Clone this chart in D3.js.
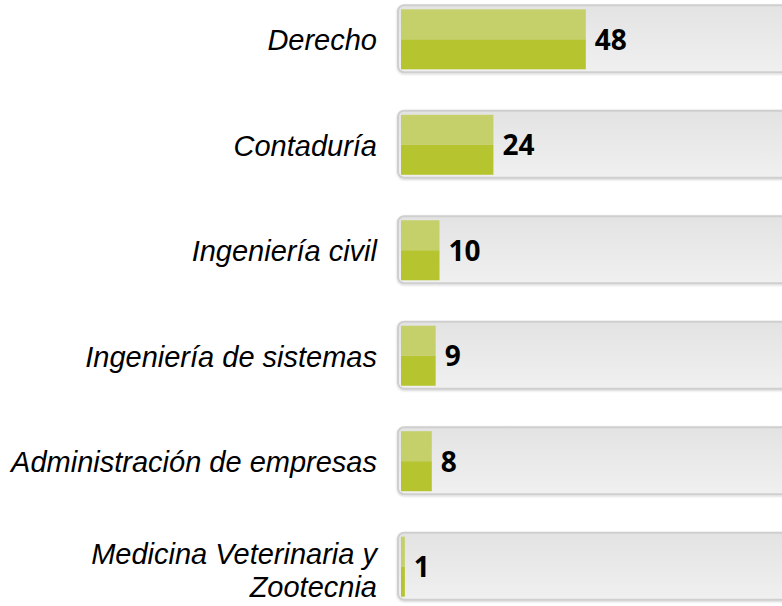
<!DOCTYPE html>
<html><head><meta charset="utf-8">
<script src="https://cdn.jsdelivr.net/npm/d3@7/dist/d3.min.js"></script>
<style>html,body{margin:0;padding:0;background:#fff;}svg{display:block;}</style>
</head><body>
<svg id="c" width="782" height="606"></svg>
<script>
const categories = ["Derecho","Contaduría","Ingeniería civil","Ingeniería de sistemas","Administración de empresas","Medicina Veterinaria y Zootecnia"];
const labelLines = [["Derecho"],["Contaduría"],["Ingeniería civil"],["Ingeniería de sistemas"],["Administración de empresas"],["Medicina Veterinaria y","Zootecnia"]];
const values = [48,24,10,9,8,1];
const xDomain = [0,100];

const svg = d3.select("#c");
const defs = svg.append("defs");
const tg = defs.append("linearGradient").attr("id","trk").attr("x1",0).attr("y1",0).attr("x2",0).attr("y2",1);
tg.append("stop").attr("offset","0%").attr("stop-color","#e4e3e4");
tg.append("stop").attr("offset","100%").attr("stop-color","#f0f0f0");
const f = defs.append("filter").attr("id","sh").attr("x","-5%").attr("y","-20%").attr("width","110%").attr("height","140%");
f.append("feDropShadow").attr("dx",0).attr("dy",1).attr("stdDeviation",1).attr("flood-color","#000").attr("flood-opacity",0.18);

const x = d3.scaleLinear().domain(xDomain).range([401,786]);
const y = d3.scaleBand().domain(categories).range([-15,621]).paddingInner(0.37).paddingOuter(0.2);

const g = svg.selectAll("g.row").data(categories).join("g").attr("class","row");
const bw = 60;
g.each(function(c,i){
  const gg = d3.select(this);
  const cy = y(c) + y.bandwidth()/2;
  gg.append("rect").attr("x",x(0)-3).attr("y",cy-bw/2-4).attr("width",420).attr("height",bw+7)
    .attr("rx",6).attr("fill","url(#trk)").attr("stroke","#cfcfcf").attr("stroke-width",2).attr("filter","url(#sh)");
  const w = x(values[i]) - x(0);
  gg.append("rect").attr("x",x(0)).attr("y",cy-bw/2).attr("width",w).attr("height",bw/2).attr("fill","#c5d06a");
  gg.append("rect").attr("x",x(0)).attr("y",cy).attr("width",w).attr("height",bw/2).attr("fill","#b5c42f");
  gg.append("text").attr("x",x(values[i])+9).attr("y",cy).attr("dy","0.38em")
    .attr("font-family","'Open Sans', sans-serif").attr("font-weight","bold").attr("font-size",28).attr("fill","#000")
    .text(values[i]);
  const lines = labelLines[i];
  const lh = 33;
  const t = gg.append("text").attr("text-anchor","end").attr("font-family","'Liberation Sans', Arial, sans-serif")
    .attr("font-style","italic").attr("font-size",29).attr("fill","#000");
  lines.forEach((l,k)=>{
    t.append("tspan").attr("x",377).attr("y",cy + (k-(lines.length-1)/2)*lh + (lines.length-1)*3).attr("dy","0.38em").text(l);
  });
});
</script>
</body></html>
